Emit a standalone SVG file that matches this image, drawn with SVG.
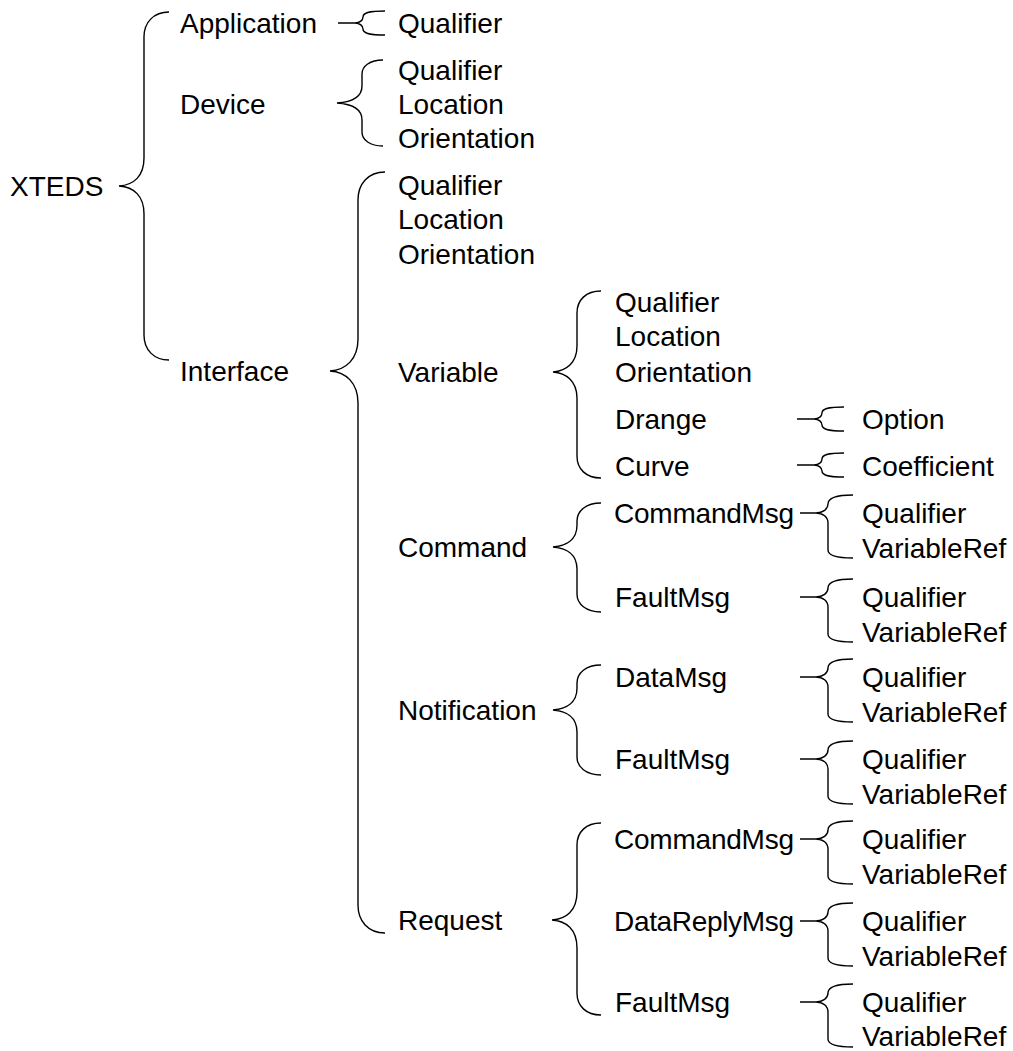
<svg xmlns="http://www.w3.org/2000/svg" xmlns:xlink="http://www.w3.org/1999/xlink" width="1013" height="1051" viewBox="0 0 1013 1051">
<style>
.t{font-family:"Liberation Sans",Arial,sans-serif;font-size:28px;fill:#000}
.b{fill:none;stroke:#000;stroke-width:1.4;stroke-linecap:butt}
</style>
<defs>
<path id="mb" d="M 800 0 L 816 0 C 823 0 828 -4 828 -9 C 828 -15 835 -18 853 -18 M 816 0 C 823 0 828 4 828 10 L 828 37 C 828 42 834 45 853 45"/>
<path id="sb" d="M 0 0 L 17 0 C 22 0 25 -3 25 -6 C 25 -10 30 -12 47 -12 M 17 0 C 22 0 25 3 25 6 C 25 10 30 12 47 12"/>
</defs>
<rect width="1013" height="1051" fill="#fff"/>
<g id="connectors" class="b">
<path d="M 169 12 C 154 12 144 22 144 37 L 144 158 C 144 176 134 185 119 186 C 134 187 144 196 144 214 L 144 335 C 144 350 154 360 169 360"/>
<use xlink:href="#sb" transform="translate(338,23)"/>
<path d="M 383 60 C 370 60 362 66 362 74 L 362 86 C 362 97 352 102 337 103 C 352 104 362 109 362 120 L 362 132 C 362 140 370 146 383 146"/>
<path d="M 385 172 C 368 172 358 184 358 200 L 358 339 C 358 359 346 370 330 371 C 346 372 358 383 358 403 L 358 905 C 358 921 368 933 385 933"/>
<path d="M 601 291 C 586 291 577 300 577 313 L 577 346 C 577 363 566 371 553 372 C 566 373 577 381 577 398 L 577 456 C 577 469 586 478 601 478"/>
<use xlink:href="#sb" transform="translate(797,419)"/>
<use xlink:href="#sb" transform="translate(797,465)"/>
<path d="M 601 503 C 586 503 577 511 577 521 L 577 525 C 577 540 566 546 553 547 C 566 548 577 554 577 569 L 577 594 C 577 604 586 612 601 612"/>
<use xlink:href="#mb" transform="translate(0,513)"/>
<use xlink:href="#mb" transform="translate(0,597)"/>
<path d="M 601 665 C 586 665 577 673 577 683 L 577 688 C 577 703 566 709 553 710 C 566 711 577 717 577 732 L 577 757 C 577 767 586 775 601 775"/>
<use xlink:href="#mb" transform="translate(0,677)"/>
<use xlink:href="#mb" transform="translate(0,759)"/>
<path d="M 601 823 C 586 823 577 832 577 845 L 577 892 C 577 911 566 919 552 920 C 566 921 577 929 577 948 L 577 993 C 577 1006 586 1015 601 1015"/>
<use xlink:href="#mb" transform="translate(0,839)"/>
<use xlink:href="#mb" transform="translate(0,921)"/>
<use xlink:href="#mb" transform="translate(0,1002)"/>
</g>
<g id="xteds"><text class="t" x="10" y="196">XTEDS</text></g>
<g id="application"><text class="t" x="180" y="33">Application</text></g>
<g id="app-qualifier"><text class="t" x="398" y="33">Qualifier</text></g>
<g id="device"><text class="t" x="180" y="114">Device</text></g>
<g id="dev-qualifier"><text class="t" x="398" y="80">Qualifier</text></g>
<g id="dev-location"><text class="t" x="398" y="114">Location</text></g>
<g id="dev-orientation"><text class="t" x="398" y="148">Orientation</text></g>
<g id="interface"><text class="t" x="180" y="381">Interface</text></g>
<g id="if-qualifier"><text class="t" x="398" y="195">Qualifier</text></g>
<g id="if-location"><text class="t" x="398" y="229">Location</text></g>
<g id="if-orientation"><text class="t" x="398" y="264">Orientation</text></g>
<g id="variable"><text class="t" x="398" y="382">Variable</text></g>
<g id="var-qualifier"><text class="t" x="615" y="312">Qualifier</text></g>
<g id="var-location"><text class="t" x="615" y="346">Location</text></g>
<g id="var-orientation"><text class="t" x="615" y="382">Orientation</text></g>
<g id="var-drange"><text class="t" x="615" y="429">Drange</text></g>
<g id="var-curve"><text class="t" x="615" y="476">Curve</text></g>
<g id="option"><text class="t" x="862" y="429">Option</text></g>
<g id="coefficient"><text class="t" x="862" y="476">Coefficient</text></g>
<g id="command"><text class="t" x="398" y="557">Command</text></g>
<g id="cmd-commandmsg"><text class="t" x="614" y="523" textLength="180">CommandMsg</text></g>
<g id="cmd-cm-qualifier"><text class="t" x="862" y="523">Qualifier</text></g>
<g id="cmd-cm-variableref"><text class="t" x="862" y="558">VariableRef</text></g>
<g id="cmd-faultmsg"><text class="t" x="615" y="607">FaultMsg</text></g>
<g id="cmd-fm-qualifier"><text class="t" x="862" y="607">Qualifier</text></g>
<g id="cmd-fm-variableref"><text class="t" x="862" y="642">VariableRef</text></g>
<g id="notification"><text class="t" x="398" y="720">Notification</text></g>
<g id="not-datamsg"><text class="t" x="615" y="687">DataMsg</text></g>
<g id="not-dm-qualifier"><text class="t" x="862" y="687">Qualifier</text></g>
<g id="not-dm-variableref"><text class="t" x="862" y="722">VariableRef</text></g>
<g id="not-faultmsg"><text class="t" x="615" y="769">FaultMsg</text></g>
<g id="not-fm-qualifier"><text class="t" x="862" y="769">Qualifier</text></g>
<g id="not-fm-variableref"><text class="t" x="862" y="804">VariableRef</text></g>
<g id="request"><text class="t" x="398" y="930">Request</text></g>
<g id="req-commandmsg"><text class="t" x="614" y="849" textLength="180">CommandMsg</text></g>
<g id="req-cm-qualifier"><text class="t" x="862" y="849">Qualifier</text></g>
<g id="req-cm-variableref"><text class="t" x="862" y="884">VariableRef</text></g>
<g id="req-datareplymsg"><text class="t" x="614" y="931" textLength="180">DataReplyMsg</text></g>
<g id="req-dr-qualifier"><text class="t" x="862" y="931">Qualifier</text></g>
<g id="req-dr-variableref"><text class="t" x="862" y="966">VariableRef</text></g>
<g id="req-faultmsg"><text class="t" x="615" y="1012">FaultMsg</text></g>
<g id="req-fm-qualifier"><text class="t" x="862" y="1012">Qualifier</text></g>
<g id="req-fm-variableref"><text class="t" x="862" y="1046">VariableRef</text></g>
</svg>
